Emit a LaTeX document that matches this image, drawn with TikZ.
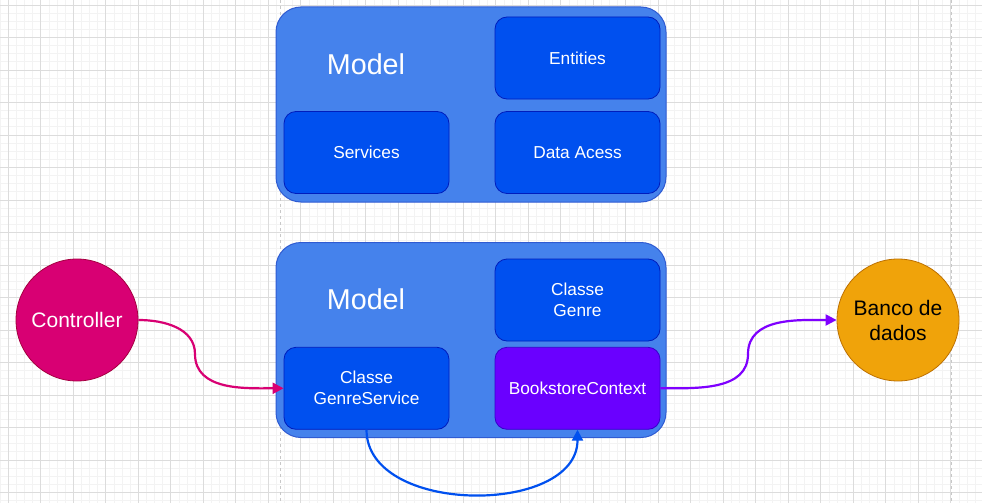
\documentclass[tikz,border=0pt]{standalone}
\usepackage{fontspec}
\setmainfont{Liberation Sans}
\usetikzlibrary{arrows.meta}
\definecolor{gridmin}{HTML}{F3F3F3}
\definecolor{gridmaj}{HTML}{DCDCDC}
\definecolor{pageline}{HTML}{C8C8C8}
\definecolor{layerfill}{HTML}{4582EC}
\definecolor{layerline}{HTML}{2F5BD2}
\definecolor{partfill}{HTML}{0050EF}
\definecolor{partline}{HTML}{001DBC}
\definecolor{ctxfill}{HTML}{6A00FF}
\definecolor{ctxline}{HTML}{3700CC}
\definecolor{ctrlfill}{HTML}{D80073}
\definecolor{ctrlline}{HTML}{A50040}
\definecolor{dbfill}{HTML}{F0A30A}
\definecolor{dbline}{HTML}{BD7000}
\definecolor{flowpurple}{HTML}{7F00FF}
\tikzset{
  layer/.style={draw=layerline,fill=layerfill,line width=1pt,rounded corners=25pt,
    minimum width=390pt,minimum height=195pt},
  part/.style={draw=partline,fill=partfill,line width=0.8pt,rounded corners=12pt,
    minimum width=165pt,minimum height=82pt,inner sep=0pt,text=white,align=center,
    font=\fontsize{17.3}{21}\selectfont},
  title/.style={text=white,font=\fontsize{28.7}{34}\selectfont},
  actor/.style={circle,minimum size=122pt,inner sep=0pt,line width=0.8pt,align=center,
    font=\fontsize{21}{25}\selectfont},
  flow/.style={line width=2.2pt,-{Triangle[length=11pt,width=11pt]}}
}
\begin{document}
\begin{tikzpicture}[x=1pt,y=-1pt]
  \useasboundingbox[fill=white] (0,0) rectangle (982,503);
  % grid
  \foreach \i in {0,...,120} \draw[gridmin,line width=0.8pt] (0.2+8.125*\i,0) -- (0.2+8.125*\i,503);
  \foreach \i in {0,...,61} \draw[gridmin,line width=0.8pt] (0,5+8.125*\i) -- (982,5+8.125*\i);
  \foreach \i in {0,...,30} \draw[gridmaj,line width=0.9pt] (8.3+32.5*\i,0) -- (8.3+32.5*\i,503);
  \foreach \i in {0,...,15} \draw[gridmaj,line width=0.9pt] (0,5+32.5*\i) -- (982,5+32.5*\i);
  \foreach \x in {280,951} \draw[pageline,dashed,line width=1pt] (\x,0) -- (\x,503);
  % upper model
  \node[layer] (top) at (471,104.5) {};
  \node[title] (topname) at (366,64) {Model};
  \node[part] (ent) at (577.5,58) {Entities};
  \node[part] (srv) at (366.5,152.5) {Services};
  \node[part] (dao) at (577.5,152.5) {Data Acess};
  % lower model
  \node[layer] (low) at (471,340) {};
  \node[title] (lowname) at (366,299) {Model};
  \node[part] (genre) at (577.5,300) {Classe\\Genre};
  \node[part] (gs) at (366.5,388.3) {Classe\\GenreService};
  \node[part,fill=ctxfill,draw=ctxline] (ctx) at (577.5,388.3) {BookstoreContext};
  % actors
  \node[actor,fill=ctrlfill,draw=ctrlline,text=white] (ctrl) at (77,320) {Controller};
  \node[actor,fill=dbfill,draw=dbline,text=black] (db) at (898,320) {Banco de\\dados};
  \coordinate (w1) at (195,354);
  \coordinate (w2) at (748,354);
  \draw[flow,ctrlfill] (ctrl.east) to[out=0,in=90] (w1) to[out=-90,in=180] (gs.west);
  \draw[flow,flowpurple] (ctx.east) to[out=0,in=-90] (w2) to[out=90,in=180] (db.west);
  \draw[flow,partfill] (gs.south) .. controls +(0,86) and +(0,86) .. (ctx.south);
\end{tikzpicture}
\end{document}
